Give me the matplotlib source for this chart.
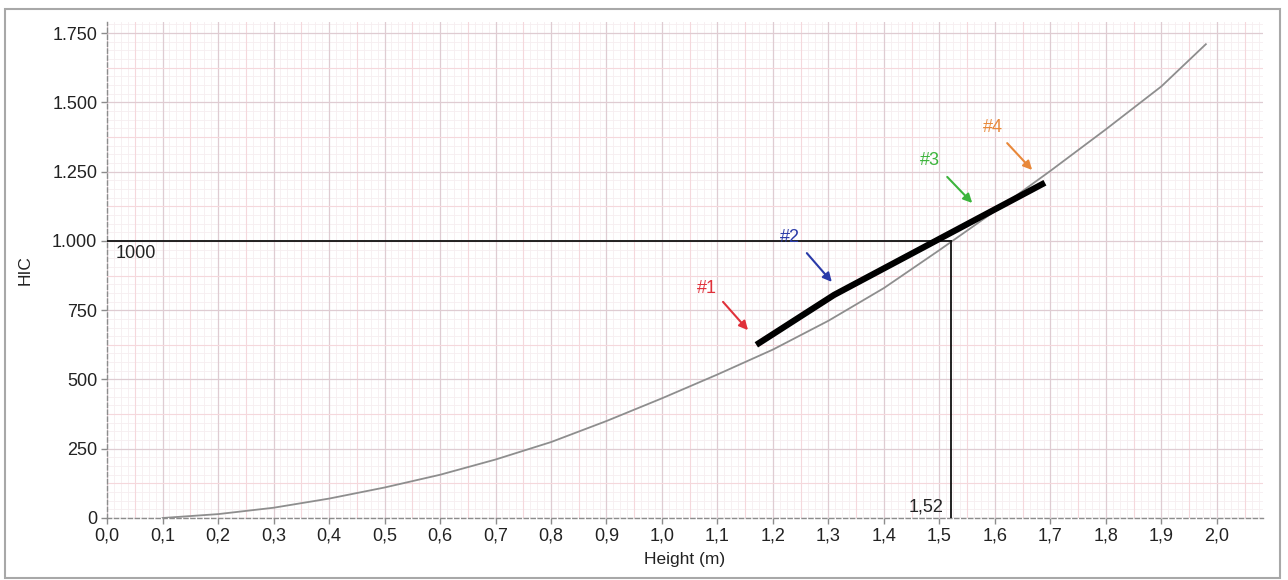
import matplotlib.pyplot as plt
from matplotlib.patches import Rectangle
from matplotlib.ticker import MultipleLocator, FuncFormatter

# HIC curve vs drop height
heights = [0.10, 0.20, 0.30, 0.40, 0.50, 0.60, 0.70, 0.80, 0.90, 1.00,
           1.10, 1.20, 1.30, 1.40, 1.50, 1.60, 1.70, 1.80, 1.90, 1.98]
hic = [0, 14, 37, 70, 110, 156, 211, 274, 350, 432,
       518, 608, 712, 830, 967, 1108, 1253, 1403, 1558, 1710]

# measured trend segment
meas_h = [1.17, 1.31, 1.69]
meas_hic = [625, 805, 1210]

# critical point
crit_hic = 1000
crit_h = 1.52

# annotations: label, colour, text pos, arrow start, arrow end
labels = ["#1", "#2", "#3", "#4"]
colors = ["#e0303a", "#2a3aa8", "#3cb43c", "#e8883a"]
text_pos = [(1.081, 830), (1.231, 1014), (1.483, 1292), (1.596, 1411)]
arrow_from = [(1.110, 780), (1.261, 956), (1.514, 1231), (1.622, 1353)]
arrow_to = [(1.155, 678), (1.306, 852), (1.559, 1137), (1.667, 1256)]

plt.rcParams['font.family'] = ['Liberation Sans', 'DejaVu Sans']

fig = plt.figure(figsize=(12.88, 5.8), dpi=100)
ax = fig.add_axes([0.0831, 0.1069, 0.8975, 0.8551])

# panel frame
fig.patches.append(Rectangle((0.004, 0.003), 0.990, 0.982, transform=fig.transFigure,
                             fill=False, edgecolor='#a8a8a8', linewidth=1.5))

ax.set_xlim(0, 2.083)
ax.set_ylim(0, 1790)

# fine grid
x = 0.0125
while x < 2.083:
    ax.axvline(x, color='#f6eef0', lw=0.6, zorder=0)
    x += 0.0125
y = 31.25
while y < 1790:
    ax.axhline(y, color='#f6eef0', lw=0.6, zorder=0)
    y += 31.25
ax.xaxis.set_major_locator(MultipleLocator(0.1))
ax.xaxis.set_minor_locator(MultipleLocator(0.05))
ax.yaxis.set_major_locator(MultipleLocator(250))
ax.yaxis.set_minor_locator(MultipleLocator(125))
ax.grid(True, which='minor', color='#f5d8dc', lw=0.8, zorder=0)
ax.grid(True, which='major', color='#dfccd2', lw=0.9, zorder=0)
ax.set_axisbelow(True)

ax.xaxis.set_major_formatter(FuncFormatter(lambda v, p: f"{v:.1f}".replace('.', ',')))
ax.yaxis.set_major_formatter(FuncFormatter(lambda v, p: f"{int(v):,}".replace(',', '.')))

for side in ['top', 'right']:
    ax.spines[side].set_visible(False)
for side in ['left', 'bottom']:
    ax.spines[side].set_color('#8c8c8c')
    ax.spines[side].set_linestyle((0, (3, 2)))
    ax.spines[side].set_linewidth(1.0)

ax.tick_params(which='major', length=4, width=1, color='#8c8c8c',
               labelsize=13, labelcolor='#222222', pad=3)
ax.tick_params(which='minor', length=0)

ax.set_xlabel("Height (m)", fontsize=12.5, color='#222222', labelpad=5)
ax.set_ylabel("HIC", fontsize=12.5, color='#222222', labelpad=14)

ax.plot(heights, hic, color='#8e8e8e', lw=1.3, zorder=3)

ax.plot([0, crit_h], [crit_hic, crit_hic], color='#111111', lw=1.3, zorder=4)
ax.plot([crit_h, crit_h], [0, crit_hic], color='#111111', lw=1.3, zorder=4)
ax.text(0.015, 956, str(crit_hic), fontsize=13, va='center', ha='left', color='#222222')
ax.text(1.508, 40, f"{crit_h:.2f}".replace('.', ','), fontsize=13, va='center',
        ha='right', color='#222222')

ax.plot(meas_h, meas_hic, color='black', lw=4.5, solid_capstyle='butt', zorder=5)

for lab, c, tp, a0, a1 in zip(labels, colors, text_pos, arrow_from, arrow_to):
    ax.text(tp[0], tp[1], lab, color=c, fontsize=13, ha='center', va='center', zorder=6)
    ax.annotate("", xy=a1, xytext=a0,
                arrowprops=dict(arrowstyle='-|>', color=c, lw=1.5,
                                mutation_scale=13, shrinkA=0, shrinkB=0), zorder=6)

fig.savefig("out.png", dpi=100)
